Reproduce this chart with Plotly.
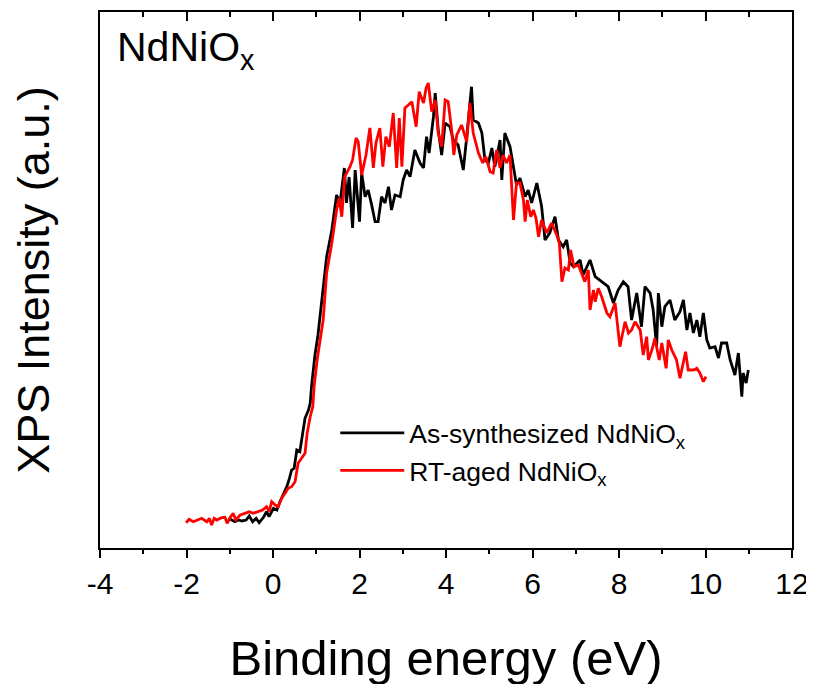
import plotly.graph_objects as go

# ---- data ----
black_x = [-1.03, -0.95, -0.88, -0.80, -0.72, -0.62, -0.55, -0.47, -0.39, -0.32, -0.22, -0.15, -0.09, 0.01, 0.09,
           0.16, 0.24, 0.32, 0.38, 0.43, 0.49, 0.55, 0.62, 0.69, 0.74, 0.82, 0.86, 0.89, 0.97, 1.04, 1.09, 1.16,
           1.24, 1.36, 1.47, 1.55, 1.65, 1.70, 1.76, 1.84, 1.90, 2.00, 2.05, 2.13, 2.20, 2.28, 2.36, 2.43, 2.51,
           2.59, 2.67, 2.74, 2.82, 2.94, 3.01, 3.09, 3.17, 3.28, 3.40, 3.48, 3.55, 3.61, 3.71, 3.75, 3.82, 3.90,
           3.98, 4.09, 4.17, 4.28, 4.40, 4.48, 4.55, 4.59, 4.63, 4.75, 4.83, 4.90, 4.98, 5.06, 5.13, 5.25, 5.29,
           5.36, 5.48, 5.56, 5.63, 5.71, 5.83, 5.90, 5.98, 6.10, 6.21, 6.29, 6.40, 6.52, 6.60, 6.71, 6.79, 6.87,
           6.95, 7.10, 7.17, 7.33, 7.45, 7.60, 7.75, 7.87, 7.98, 8.10, 8.21, 8.29, 8.41, 8.52, 8.60, 8.72, 8.79,
           8.87, 8.91, 8.99, 9.06, 9.18, 9.29, 9.41, 9.49, 9.57, 9.64, 9.72, 9.80, 9.87, 9.95, 10.03, 10.10,
           10.22, 10.30, 10.37, 10.49, 10.57, 10.68, 10.76, 10.84, 10.87, 10.94, 10.99]
black_y = [5.54, 5.22, 4.90, 5.22, 5.04, 5.22, 5.97, 4.90, 5.54, 4.72, 5.73, 6.77, 5.84, 7.41, 7.09,
           8.64, 10.21, 11.44, 13.00, 14.55, 14.87, 18.28, 17.97, 22.01, 24.20, 25.75, 27.00, 30.09, 36.01, 39.74,
           43.15, 48.13, 54.35, 59.33, 65.86, 64.37, 70.90, 64.37, 69.22, 59.70, 70.52, 60.88, 69.96, 65.54, 66.79,
           64.06, 60.88, 60.88, 65.54, 64.37, 67.41, 63.06, 65.86, 65.54, 68.66, 70.52, 69.27, 74.25, 71.83, 70.90,
           76.74, 73.69, 80.47, 84.89, 77.99, 73.32, 79.29, 78.60, 76.12, 75.19, 70.52, 76.74, 83.02, 86.06, 79.85,
           79.29, 77.43, 72.39, 71.83, 74.63, 71.14, 76.12, 68.66, 77.43, 74.87, 71.14, 67.72, 69.03, 65.54, 66.79,
           64.37, 68.10, 63.75, 57.46, 58.77, 61.81, 57.46, 56.21, 57.46, 53.17, 52.48, 53.73, 50.93, 53.73, 50.62,
           49.68, 48.75, 45.71, 48.13, 49.68, 48.75, 42.54, 47.57, 41.29, 48.75, 47.57, 44.40, 37.56, 47.57, 41.29,
           45.02, 46.27, 42.54, 44.09, 46.27, 40.67, 43.84, 40.11, 42.54, 39.42, 43.84, 38.81, 37.31, 37.56, 35.45,
           38.25, 38.25, 35.07, 32.28, 36.38, 28.23, 32.65, 30.78, 33.21]

red_x = [-2.01, -1.94, -1.84, -1.73, -1.65, -1.53, -1.47, -1.42, -1.36, -1.30, -1.19, -1.11, -1.06, -0.99, -0.92,
         -0.86, -0.76, -0.65, -0.55, -0.46, -0.34, -0.24, -0.15, -0.09, -0.03, 0.05, 0.12, 0.20, 0.28, 0.35,
         0.43, 0.51, 0.58, 0.66, 0.74, 0.79, 0.86, 0.92, 0.95, 1.02, 1.09, 1.16, 1.24, 1.36, 1.47, 1.53, 1.59,
         1.66, 1.78, 1.84, 1.92, 1.97, 2.05, 2.15, 2.24, 2.32, 2.38, 2.47, 2.54, 2.61, 2.69, 2.78, 2.86, 2.92,
         2.98, 3.05, 3.13, 3.21, 3.31, 3.38, 3.48, 3.54, 3.59, 3.67, 3.75, 3.82, 3.90, 3.98, 4.05, 4.13, 4.18,
         4.25, 4.36, 4.48, 4.55, 4.63, 4.75, 4.85, 4.92, 5.02, 5.09, 5.17, 5.25, 5.32, 5.40, 5.48, 5.56, 5.63,
         5.71, 5.79, 5.83, 5.88, 5.96, 6.02, 6.08, 6.14, 6.21, 6.33, 6.44, 6.56, 6.62, 6.68, 6.75, 6.83, 6.88,
         6.96, 7.06, 7.14, 7.21, 7.29, 7.33, 7.41, 7.45, 7.52, 7.60, 7.72, 7.79, 7.91, 8.02, 8.14, 8.22, 8.29,
         8.37, 8.49, 8.56, 8.64, 8.68, 8.76, 8.83, 8.93, 8.99, 9.09, 9.14, 9.22, 9.33, 9.41, 9.49, 9.54, 9.60,
         9.72, 9.80, 9.87, 9.95, 10.01]
red_y = [4.72, 5.35, 4.90, 5.22, 5.54, 4.90, 5.54, 4.29, 5.54, 5.22, 5.65, 5.73, 4.61, 5.73, 6.47,
         5.22, 6.16, 6.47, 6.77, 6.47, 6.77, 7.09, 7.71, 6.77, 8.64, 8.02, 7.71, 9.27, 10.21, 11.14,
         11.44, 12.37, 15.80, 16.74, 17.67, 21.40, 24.50, 26.36, 30.09, 35.07, 38.81, 42.54, 51.31, 56.90, 63.06,
         65.30, 61.81, 69.27, 71.14, 72.39, 76.49, 75.80, 69.59, 73.32, 78.36, 70.90, 75.56, 78.36, 71.14, 76.74,
         74.87, 81.16, 70.90, 80.22, 71.14, 82.09, 82.65, 83.27, 78.60, 85.13, 83.02, 85.82, 86.75, 81.40, 83.58,
         77.43, 74.87, 83.58, 83.27, 77.99, 73.32, 77.05, 78.92, 75.80, 83.02, 77.43, 73.69, 71.83, 73.00, 70.21,
         69.96, 74.25, 70.90, 73.32, 71.83, 73.32, 61.19, 68.10, 68.10, 64.93, 60.88, 64.93, 61.81, 63.06, 61.57,
         58.08, 61.19, 58.77, 60.63, 58.40, 56.90, 49.68, 52.24, 51.87, 55.60, 52.48, 52.80, 50.93, 49.68, 51.87,
         44.40, 48.13, 45.95, 48.45, 46.88, 43.84, 43.15, 45.71, 37.56, 42.22, 40.11, 40.67, 42.22, 40.67, 36.01,
         39.42, 35.07, 36.94, 39.12, 35.07, 38.25, 33.53, 38.81, 36.94, 35.07, 31.66, 34.51, 36.62, 33.21, 33.21,
         33.53, 32.65, 31.03, 31.96]

x_tickvals = [-4, -2, 0, 2, 4, 6, 8, 10, 12]
x_ticktext = ["-4", "-2", "0", "2", "4", "6", "8", "10", "12"]

FONT = "Liberation Sans, Arial, sans-serif"

fig = go.Figure()
fig.add_trace(go.Scatter(x=black_x, y=black_y, mode="lines",
                         line=dict(color="#000000", width=2.8),
                         name="As-synthesized NdNiO<sub>x</sub>"))
fig.add_trace(go.Scatter(x=red_x, y=red_y, mode="lines",
                         line=dict(color="#FF0000", width=2.8),
                         name="RT-aged NdNiO<sub>x</sub>"))
# invisible trace so the top (mirrored, inward-ticked) axis is drawn
fig.add_trace(go.Scatter(x=[-4, 12], y=[0, 0], xaxis="x2", mode="lines",
                         line=dict(width=0), showlegend=False, hoverinfo="skip"))

fig.update_layout(
    width=814, height=684,
    margin=dict(l=92, r=30, t=4, b=144),
    paper_bgcolor="white", plot_bgcolor="white",
    font=dict(family=FONT, color="black"),
    showlegend=True,
    legend=dict(x=0.34, y=0.259, xanchor="left", yanchor="top",
                bgcolor="rgba(0,0,0,0)", font=dict(size=26.5, family=FONT),
                itemwidth=64, tracegroupgap=0),
    xaxis=dict(range=[-4, 12], tickvals=x_tickvals, ticktext=x_ticktext,
               ticks="outside", ticklen=8, tickwidth=2, tickcolor="black",
               minor=dict(dtick=1, ticks="outside", ticklen=4, tickwidth=2, tickcolor="black"),
               showline=True, linewidth=2, linecolor="black", mirror=True,
               showgrid=False, zeroline=False, automargin=False,
               tickfont=dict(size=30, family=FONT),
               title=dict(text="Binding energy (eV)", font=dict(size=49, family=FONT), standoff=42)),
    xaxis2=dict(range=[-4, 12], overlaying="x", side="top", tickvals=x_tickvals,
                ticks="inside", ticklen=9, tickwidth=2, tickcolor="black",
                minor=dict(dtick=1, ticks="inside", ticklen=5, tickwidth=2, tickcolor="black"),
                showticklabels=False, showgrid=False, zeroline=False, showline=False,
                automargin=False),
    yaxis=dict(range=[0, 100], showticklabels=False, ticks="",
               showline=True, linewidth=2, linecolor="black", mirror=True,
               showgrid=False, zeroline=False, automargin=False,
               title=dict(text="XPS Intensity (a.u.)", font=dict(size=45, family=FONT), standoff=44)),
    annotations=[dict(text="NdNiO<sub>x</sub>", xref="paper", yref="paper", x=0.022, y=0.982,
                      xanchor="left", yanchor="top", showarrow=False,
                      font=dict(size=41, family=FONT, color="black"))],
)

fig.write_html("out.html")
